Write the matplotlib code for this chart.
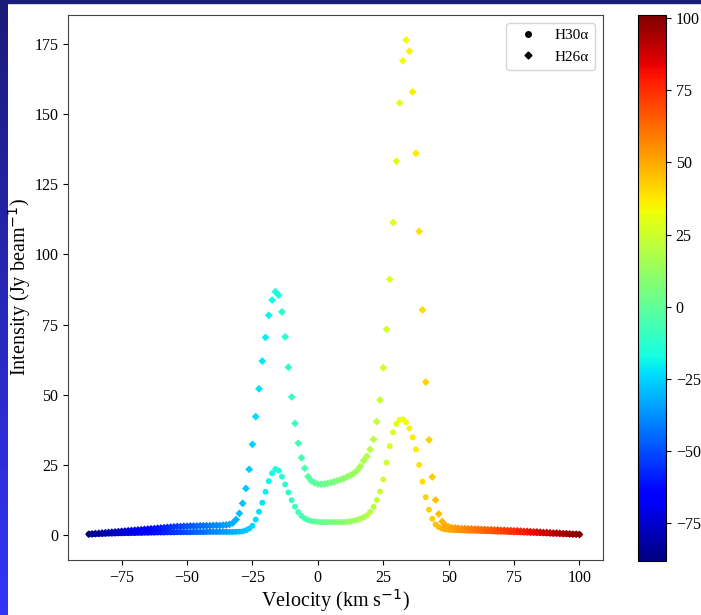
import numpy as np
import matplotlib
matplotlib.use("Agg")
import matplotlib.pyplot as plt
from matplotlib.lines import Line2D

plt.rcParams['font.family'] = ['Liberation Serif', 'DejaVu Serif']

# velocity channels (km/s)
velocity = [
    -87.5, -86.25, -85.0, -83.75, -82.5, -81.25, -80.0, -78.75, -77.5, -76.25,
    -75.0, -73.75, -72.5, -71.25, -70.0, -68.75, -67.5, -66.25, -65.0, -63.75,
    -62.5, -61.25, -60.0, -58.75, -57.5, -56.25, -55.0, -53.75, -52.5, -51.25,
    -50.0, -48.75, -47.5, -46.25, -45.0, -43.75, -42.5, -41.25, -40.0, -38.75,
    -37.5, -36.25, -35.0, -33.75, -32.5, -31.25, -30.0, -28.75, -27.5, -26.25,
    -25.0, -23.75, -22.5, -21.25, -20.0, -18.75, -17.5, -16.25, -15.0, -13.75,
    -12.5, -11.25, -10.0, -8.75, -7.5, -6.25, -5.0, -3.75, -2.5, -1.25,
    0.0, 1.25, 2.5, 3.75, 5.0, 6.25, 7.5, 8.75, 10.0, 11.25,
    12.5, 13.75, 15.0, 16.25, 17.5, 18.75, 20.0, 21.25, 22.5, 23.75,
    25.0, 26.25, 27.5, 28.75, 30.0, 31.25, 32.5, 33.75, 35.0, 36.25,
    37.5, 38.75, 40.0, 41.25, 42.5, 43.75, 45.0, 46.25, 47.5, 48.75,
    50.0, 51.25, 52.5, 53.75, 55.0, 56.25, 57.5, 58.75, 60.0, 61.25,
    62.5, 63.75, 65.0, 66.25, 67.5, 68.75, 70.0, 71.25, 72.5, 73.75,
    75.0, 76.25, 77.5, 78.75, 80.0, 81.25, 82.5, 83.75, 85.0, 86.25,
    87.5, 88.75, 90.0, 91.25, 92.5, 93.75, 95.0, 96.25, 97.5, 98.75,
    100.0,
]

# H30alpha intensity (Jy/beam)
h30 = [
    0.3, 0.3, 0.35, 0.4, 0.4, 0.45, 0.5, 0.5, 0.55, 0.6,
    0.6, 0.65, 0.65, 0.7, 0.7, 0.75, 0.75, 0.8, 0.8, 0.85,
    0.85, 0.9, 0.9, 0.9, 0.95, 0.95, 0.95, 1.0, 1.0, 1.0,
    1.0, 1.0, 1.05, 1.05, 1.05, 1.05, 1.1, 1.1, 1.1, 1.1,
    1.1, 1.1, 1.1, 1.1, 1.1, 1.15, 1.2, 1.3, 1.7, 2.3,
    3.3, 5.5, 8.3, 11.5, 15.4, 19.2, 22.0, 23.5, 23.0, 20.8,
    18.0, 15.2, 12.4, 10.1, 8.2, 6.8, 5.9, 5.3, 5.0, 4.8,
    4.7, 4.6, 4.6, 4.6, 4.6, 4.6, 4.6, 4.6, 4.6, 4.7,
    4.9, 5.1, 5.4, 5.8, 6.3, 7.0, 8.2, 10.0, 12.5, 15.5,
    19.8, 25.8, 31.7, 36.6, 39.6, 41.0, 41.2, 40.2, 38.0, 34.8,
    30.5, 25.0, 19.0, 13.5, 9.0, 5.8, 3.8, 2.8, 2.3, 2.0,
    1.9, 1.8, 1.75, 1.7, 1.65, 1.6, 1.55, 1.5, 1.5, 1.45,
    1.4, 1.4, 1.35, 1.3, 1.25, 1.2, 1.2, 1.15, 1.1, 1.05,
    1.0, 1.0, 0.95, 0.9, 0.85, 0.8, 0.8, 0.75, 0.7, 0.65,
    0.6, 0.55, 0.5, 0.5, 0.45, 0.4, 0.35, 0.3, 0.3, 0.25,
    0.2,
]

# H26alpha intensity (Jy/beam)
h26 = [
    0.3, 0.4, 0.5, 0.6, 0.7, 0.8, 0.9, 1.0, 1.1, 1.2,
    1.3, 1.4, 1.5, 1.6, 1.7, 1.8, 1.9, 2.0, 2.1, 2.2,
    2.3, 2.4, 2.5, 2.6, 2.7, 2.8, 2.9, 3.0, 3.0, 3.1,
    3.1, 3.2, 3.2, 3.2, 3.3, 3.3, 3.3, 3.3, 3.4, 3.4,
    3.4, 3.5, 3.6, 3.8, 4.3, 5.5, 7.7, 11.3, 16.6, 23.4,
    32.3, 42.2, 52.1, 62.0, 70.4, 78.3, 83.7, 86.7, 85.5, 79.5,
    70.6, 59.8, 49.2, 39.8, 32.7, 27.5, 23.8, 20.8, 19.3, 18.6,
    18.2, 18.1, 18.2, 18.4, 18.7, 19.0, 19.4, 19.8, 20.2, 20.7,
    21.3, 22.0, 23.0, 24.5, 26.5, 28.0, 30.5, 34.1, 40.4, 48.1,
    59.6, 73.3, 91.1, 111.4, 133.2, 154.0, 169.0, 176.4, 172.4, 157.9,
    136.0, 108.2, 80.2, 54.5, 33.9, 20.7, 12.5, 7.5, 4.8, 3.5,
    2.9, 2.6, 2.5, 2.4, 2.3, 2.3, 2.2, 2.2, 2.1, 2.1,
    2.0, 2.0, 1.9, 1.9, 1.8, 1.8, 1.7, 1.7, 1.6, 1.6,
    1.5, 1.5, 1.4, 1.3, 1.3, 1.2, 1.1, 1.1, 1.0, 0.9,
    0.9, 0.8, 0.7, 0.7, 0.6, 0.5, 0.5, 0.4, 0.3, 0.3,
    0.2,
]

cbar_ticks = [-75, -50, -25, 0, 25, 50, 75, 100]

fig = plt.figure(figsize=(7.01, 6.15), dpi=100)

# slide border
fig.patches.append(plt.Rectangle((0, 1 - 3/615), 1, 3/615, transform=fig.transFigure,
                                 color='#1b1b78', zorder=0))
bar = fig.add_axes([0, 0, 8/701, 1])
bar.imshow(np.linspace(0, 1, 100).reshape(-1, 1), aspect='auto',
           cmap=matplotlib.colors.LinearSegmentedColormap.from_list('b', ['#1b1b78', '#3434f8']))
bar.axis('off')

ax = fig.add_axes([68/701, 1 - 560/615, 535/701, 545/615])
cax = fig.add_axes([638/701, 1 - 561/615, 28/701, 546/615])

sc = ax.scatter(velocity, h30, c=velocity, cmap='jet', vmin=-88, vmax=101,
                marker='o', s=18, edgecolors='none')
sc = ax.scatter(velocity, h26, c=velocity, cmap='jet', vmin=-88, vmax=101,
                marker='D', s=16, edgecolors='none')

ax.set_xlim(-95.5, 109)
ax.set_ylim(-8.9, 185.3)
ax.set_xlabel("Velocity (km s$^{-1}$)", fontsize=14.5, labelpad=1)
ax.set_ylabel("Intensity (Jy beam$^{-1}$)", fontsize=14.5, labelpad=1)
ax.tick_params(labelsize=11.5)
for s in ax.spines.values():
    s.set_color('#444444')

handles = [Line2D([], [], marker='o', color='black', linestyle='none', markersize=4),
           Line2D([], [], marker='D', color='black', linestyle='none', markersize=3.5)]
ax.legend(handles, ["H30α", "H26α"], loc='upper right', fontsize=11)

cb = fig.colorbar(sc, cax=cax)
cb.set_ticks(cbar_ticks)
cb.ax.tick_params(labelsize=11.5)

fig.savefig("out.png", dpi=100)
